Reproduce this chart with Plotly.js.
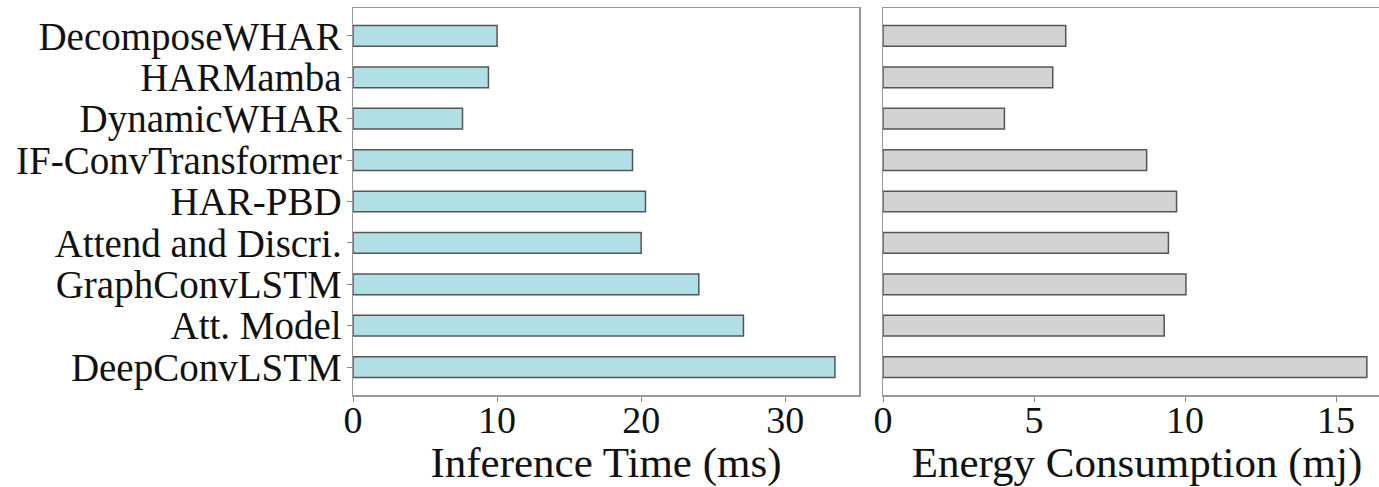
<!DOCTYPE html>
<html>
<head>
<meta charset="utf-8">
<script src="https://cdn.plot.ly/plotly-3.0.1.min.js"></script>
<style>
  html, body { margin: 0; padding: 0; overflow: hidden; background: #fff; }
  #chart { width: 1392px; height: 487px; }
</style>
</head>
<body>
<div id="chart"></div>
<script>
const models = ["DecomposeWHAR", "HARMamba", "DynamicWHAR", "IF-ConvTransformer", "HAR-PBD",
                "Attend and Discri.", "GraphConvLSTM", "Att. Model", "DeepConvLSTM"];
const inferenceTime = [10.0, 9.4, 7.6, 19.4, 20.3, 20.0, 24.0, 27.1, 33.45];
const energyConsumption = [6.05, 5.62, 4.02, 8.73, 9.72, 9.45, 10.03, 9.31, 16.02];
const xTicksLeft = [0, 10, 20, 30];
const xTicksRight = [0, 5, 10, 15];

const FONT = "Liberation Serif, Times New Roman, serif";
const W = 1392, L = 353, R = 1;
const plotW = W - L - R;

const traces = [
  {
    type: "bar", orientation: "h", x: inferenceTime, y: models, width: 0.5,
    marker: { color: "#B0E0E6", line: { color: "#555555", width: 1.5 } },
    xaxis: "x", yaxis: "y", hoverinfo: "x+y"
  },
  {
    type: "bar", orientation: "h", x: energyConsumption, y: models, width: 0.5,
    marker: { color: "#D3D3D3", line: { color: "#555555", width: 1.5 } },
    xaxis: "x2", yaxis: "y2", hoverinfo: "x+y"
  }
];

const axisCommon = {
  showgrid: false, zeroline: false, showline: true, linecolor: "#999999", linewidth: 1.5,
  ticks: "outside", ticklen: 5, tickwidth: 1, tickcolor: "#888888",
  tickfont: { family: FONT, size: 38, color: "#111" }
};

const layout = {
  width: W, height: 487,
  margin: { l: L, r: R, t: 8, b: 92 },
  paper_bgcolor: "#fff", plot_bgcolor: "#fff",
  showlegend: false,
  bargap: 0,
  font: { family: FONT, color: "#111" },
  xaxis: Object.assign({}, axisCommon, {
    domain: [0, (859 - L) / plotW],
    range: [0, 35.12], tickmode: "array", tickvals: xTicksLeft, ticktext: xTicksLeft.map(String),
    mirror: true, ticklabelstandoff: -14,
    title: { text: "Inference Time (ms)", font: { family: FONT, size: 43, color: "#111" }, standoff: 10 }
  }),
  yaxis: Object.assign({}, axisCommon, {
    domain: [0, 1], range: [8.675, -0.675], type: "category",
    categoryorder: "array", categoryarray: models, mirror: true, ticklabelstandoff: -3,
    tickmode: "array", tickvals: models, ticktext: models,
    tickfont: { family: FONT, size: 39, color: "#111" }
  }),
  xaxis2: Object.assign({}, axisCommon, {
    domain: [(883 - L) / plotW, 1],
    range: [0, 16.82], tickmode: "array", tickvals: xTicksRight, ticktext: xTicksRight.map(String),
    mirror: true, anchor: "y2", ticklabelstandoff: -14,
    title: { text: "Energy Consumption (mj)", font: { family: FONT, size: 43, color: "#111" }, standoff: 10 }
  }),
  yaxis2: Object.assign({}, axisCommon, {
    domain: [0, 1], range: [8.675, -0.675], type: "category",
    categoryorder: "array", categoryarray: models, anchor: "x2",
    showticklabels: false, ticks: "", mirror: false
  })
};

Plotly.newPlot("chart", traces, layout, { displayModeBar: false, staticPlot: true });
</script>
</body>
</html>
